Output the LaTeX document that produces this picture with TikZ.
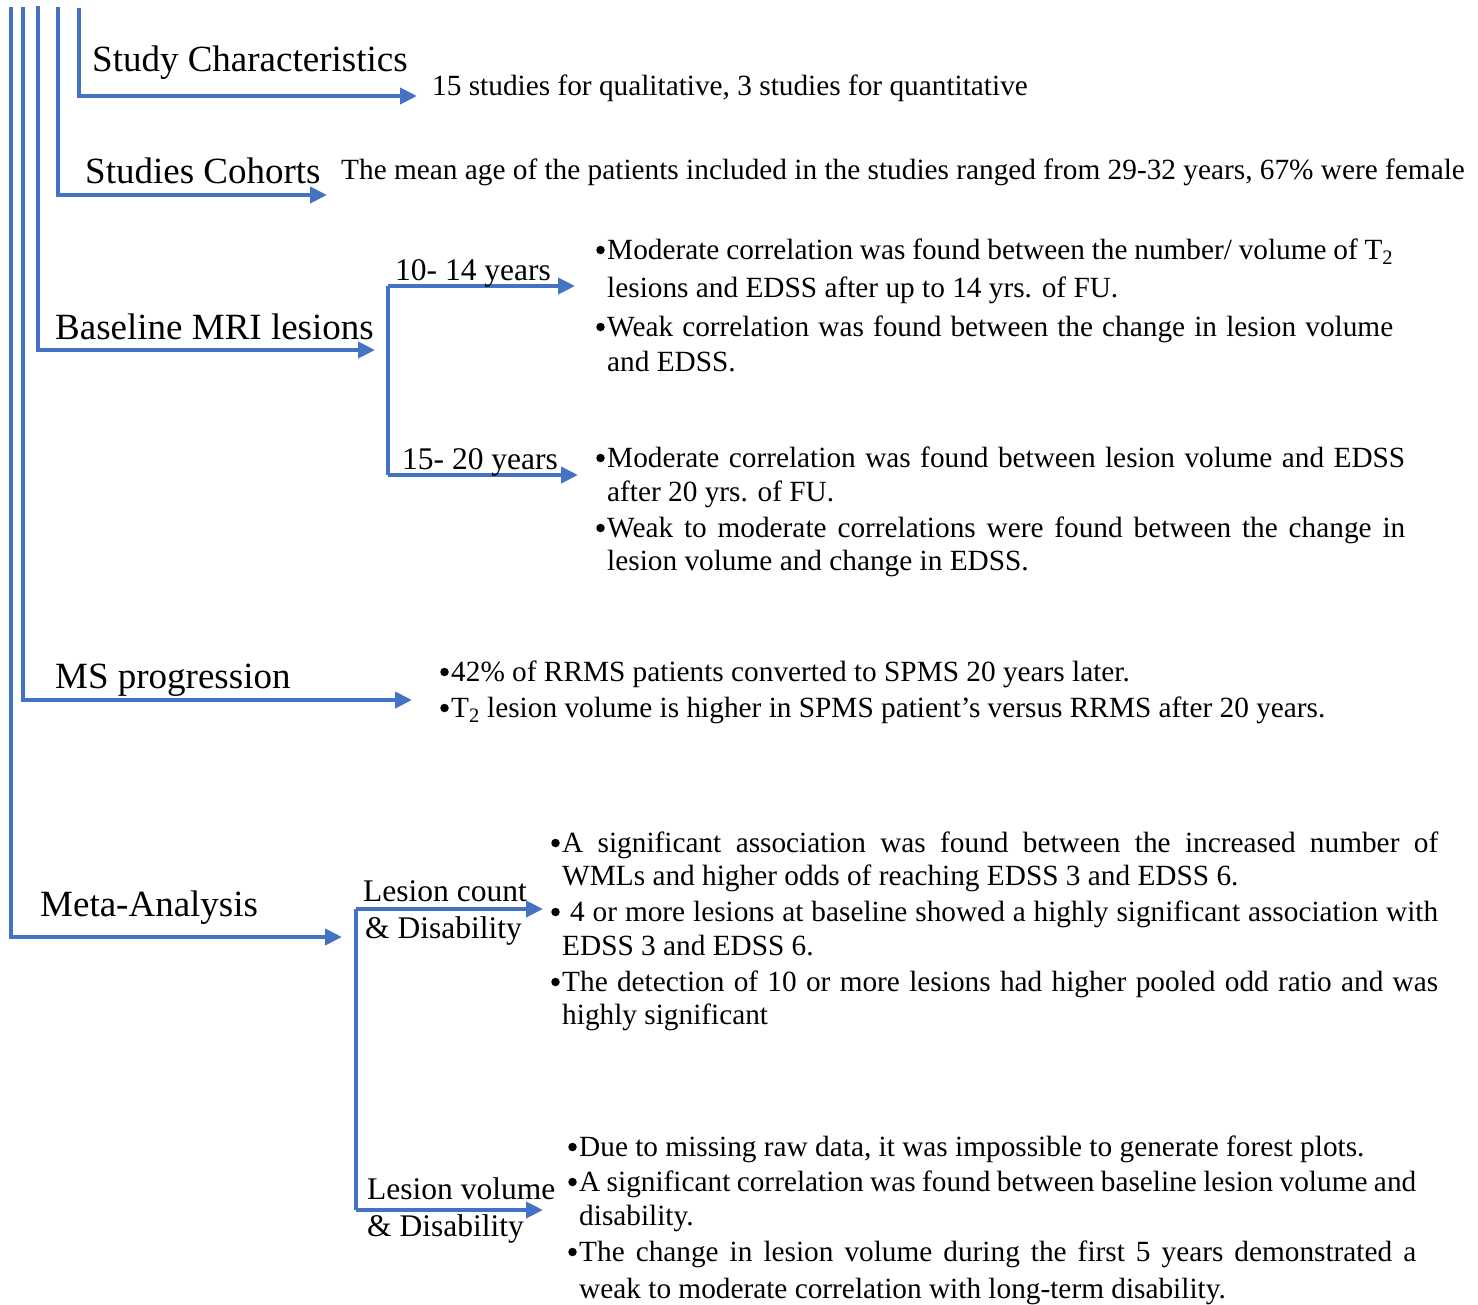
\documentclass[tikz,border=0pt]{standalone}
\usepackage{fontspec}
\setmainfont{Liberation Serif}
\usetikzlibrary{arrows.meta}
\definecolor{lineblue}{HTML}{4472C4}

% justified line of a given width (in pt)
\newcommand\jline[2]{\makebox[#1pt][s]{#2}}

\begin{document}
\begin{tikzpicture}[x=1pt,y=-1pt,
  rail/.style={draw=lineblue, line width=4pt},
  conn/.style={rail, -{Triangle[length=17pt,width=16pt]}},
  head/.style={anchor=base west, inner sep=0pt, font=\fontsize{37}{44}\selectfont},
  sublab/.style={anchor=base west, inner sep=0pt, font=\fontsize{31.5}{38}\selectfont},
  body/.style={anchor=base west, inner sep=0pt, font=\fontsize{29.3}{35}\selectfont},
  dot/.style={circle, fill=black, inner sep=0pt, minimum size=8.5pt}]
\useasboundingbox (0,0) rectangle (1478,1304);

% ---- rail tops and arrow tips ----
\coordinate (t1) at (10.5,7);
\coordinate (t2) at (22.5,7);
\coordinate (t3) at (37.5,6);
\coordinate (t4) at (57.5,7);
\coordinate (t5) at (79,8);

\coordinate (e5) at (417,96);
\coordinate (e4) at (327,195);
\coordinate (e3) at (375,350);
\coordinate (e2) at (412,700);
\coordinate (e1) at (342,937);

% ---- headings ----
\node[head] (sc)  at (92,71)  {Study Characteristics};
\node[head] (coh) at (85,183) {Studies Cohorts};
\node[head] (mri) at (55,339) {Baseline MRI lesions};
\node[head] (msp) at (55,688) {MS progression};
\node[head] (meta) at (40,916) {Meta-Analysis};

% ---- main rails ----
\draw[conn] (t5) |- (e5);
\draw[conn] (t4) |- (e4);
\draw[conn] (t3) |- (e3);
\draw[conn] (t2) |- (e2);
\draw[conn] (t1) |- (e1);

% ---- top-level texts ----
\node[body] (sctx) at (432,95) {15 studies for qualitative, 3 studies for quantitative};
\node[body] (cohtx) at (341,179) {The mean age of the patients included in the studies ranged from 29-32 years, 67\% were female};

% ---- Baseline MRI branches ----
\coordinate (bA) at (388,286);
\coordinate (bB) at (388,475);
\coordinate (eA) at (575,286);
\coordinate (eB) at (578,475);
\draw[rail] (bA) -- (bB);
\draw[conn] (bA) -- (eA);
\draw[conn] (bB) -- (eB);
\node[sublab] (y1014) at (395,280) {10- 14 years};
\node[sublab] (y1520) at (402,469) {15- 20 years};

\node[dot] (pa1) at (600.5,250) {};
\node[body] (a1) at (607,259) {\jline{786}{Moderate correlation was found between the number/ volume of T\textsubscript{2}}};
\node[body] (a2) at (607,297) {lesions and EDSS after up to 14 yrs. of FU.};
\node[dot] (pa3) at (600.5,327) {};
\node[body] (a3) at (607,336) {\jline{786}{Weak correlation was found between the change in lesion volume}};
\node[body] (a4) at (607,371) {and EDSS.};

\node[dot] (pb1) at (600.5,458) {};
\node[body] (b1) at (607,467) {\jline{798}{Moderate correlation was found between lesion volume and EDSS}};
\node[body] (b2) at (607,501) {after 20 yrs. of FU.};
\node[dot] (pb3) at (600.5,528) {};
\node[body] (b3) at (607,537) {\jline{798}{Weak to moderate correlations were found between the change in}};
\node[body] (b4) at (607,570) {lesion volume and change in EDSS.};

% ---- MS progression ----
\node[dot] (pm1) at (444.5,672) {};
\node[body] (m1) at (451,681) {42\% of RRMS patients converted to SPMS 20 years later.};
\node[dot] (pm2) at (444.5,708) {};
\node[body] (m2) at (451,717) {T\textsubscript{2} lesion volume is higher in SPMS patient’s versus RRMS after 20 years.};

% ---- Meta-analysis branches ----
\coordinate (cA) at (356,909);
\coordinate (cB) at (356,1210);
\coordinate (fA) at (543,909);
\coordinate (fB) at (543,1210);
\draw[rail] (cA) -- (cB);
\draw[conn] (cA) -- (fA);
\draw[conn] (cB) -- (fB);
\node[sublab] (lc1) at (363,901)  {Lesion count};
\node[sublab] (lc2) at (365,938)  {\& Disability};
\node[sublab] (lv1) at (367,1199) {Lesion volume};
\node[sublab] (lv2) at (367,1236) {\& Disability};

\node[dot] (pc1) at (555.5,843) {};
\node[body] (c1) at (562,852) {\jline{876}{A significant association was found between the increased number of}};
\node[body] (c2) at (562,885) {WMLs and higher odds of reaching EDSS 3 and EDSS 6.};
\node[dot] (pc3) at (555.5,912) {};
\node[body] (c3) at (570,921) {\jline{868}{4 or more lesions at baseline showed a highly significant association with}};
\node[body] (c4) at (562,955) {EDSS 3 and EDSS 6.};
\node[dot] (pc5) at (555.5,982) {};
\node[body] (c5) at (562,991) {\jline{876}{The detection of 10 or more lesions had higher pooled odd ratio and was}};
\node[body] (c6) at (562,1024) {highly significant};

\node[dot] (pd1) at (572.5,1147) {};
\node[body] (d1) at (579,1156) {Due to missing raw data, it was impossible to generate forest plots.};
\node[dot] (pd2) at (572.5,1182) {};
\node[body] (d2) at (579,1191) {\jline{837}{A significant correlation was found between baseline lesion volume and}};
\node[body] (d3) at (579,1225) {disability.};
\node[dot] (pd4) at (572.5,1252) {};
\node[body] (d4) at (579,1261) {\jline{837}{The change in lesion volume during the first 5 years demonstrated a}};
\node[body] (d5) at (579,1298) {weak to moderate correlation with long-term disability.};
\end{tikzpicture}
\end{document}
